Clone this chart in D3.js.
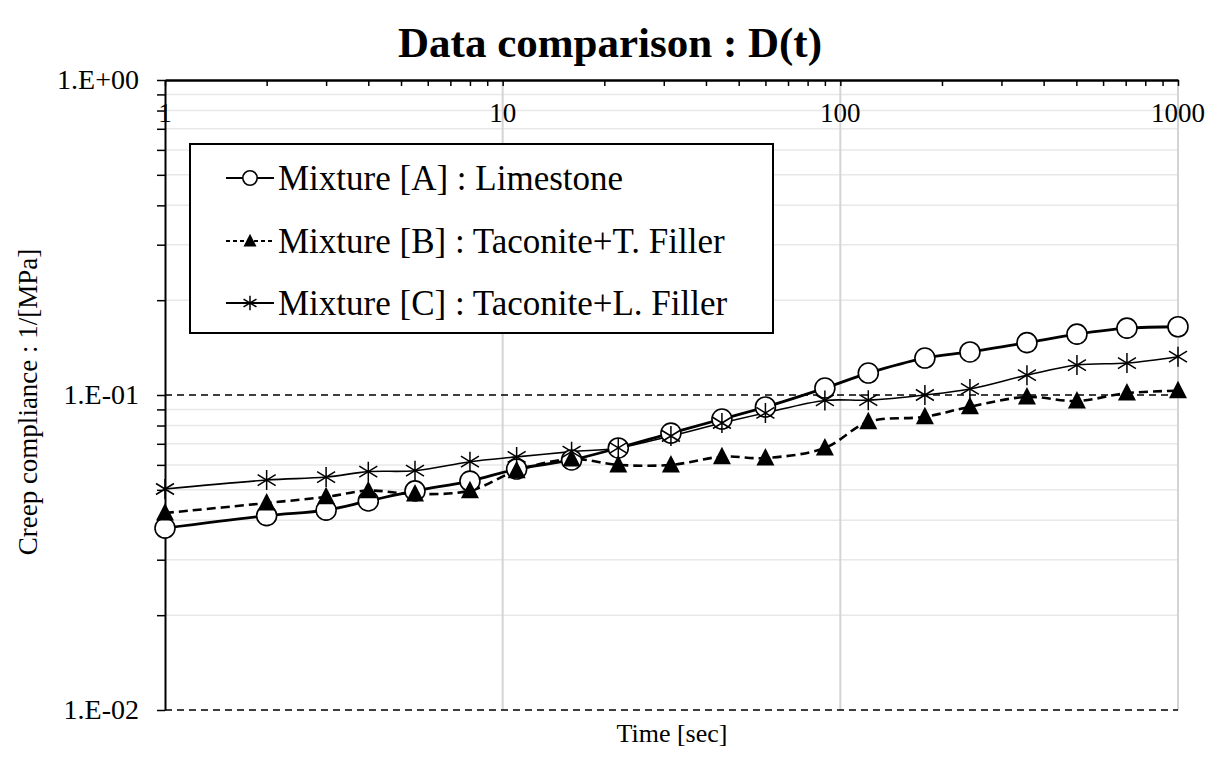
<!DOCTYPE html>
<html>
<head>
<meta charset="utf-8">
<script src="https://cdn.jsdelivr.net/npm/d3@7"></script>
<style>
  body { margin: 0; background: #fff; }
  svg text { font-family: "Liberation Serif", "Times New Roman", serif; fill: #000; }
</style>
</head>
<body>
<svg id="chart" width="1220" height="762"></svg>
<script>
// data
var times = [1, 2, 3, 4, 5.5, 8, 11, 16, 22, 31.5, 44.6, 60, 90, 121, 178, 242, 357, 502, 706, 1000];
var mixA = [0.0378, 0.0414, 0.0431, 0.0461, 0.0496, 0.0533, 0.0582, 0.0622, 0.0679, 0.0757,
            0.0839, 0.0916, 0.1052, 0.1174, 0.131, 0.137, 0.1466, 0.156, 0.163, 0.1647];
var mixB = [0.0422, 0.0454, 0.0475, 0.0497, 0.0485, 0.0497, 0.0575, 0.0626, 0.0600, 0.0600,
            0.0637, 0.0631, 0.0679, 0.0822, 0.0853, 0.0918, 0.0986, 0.0957, 0.1014, 0.1032];
var mixC = [0.0503, 0.0537, 0.0549, 0.0571, 0.0575, 0.0614, 0.0636, 0.0661, 0.0679, 0.0741,
            0.0815, 0.0877, 0.0961, 0.0963, 0.1000, 0.1045, 0.1156, 0.1245, 0.1263, 0.1323];
var seriesNames = ["Mixture [A] : Limestone", "Mixture [B] : Taconite+T. Filler", "Mixture [C] : Taconite+L. Filler"];
var xTickValues = [1, 10, 100, 1000];
var xTickLabels = ["1", "10", "100", "1000"];
var yTickValues = [1, 0.1, 0.01];
var yTickLabels = ["1.E+00", "1.E-01", "1.E-02"];

var svg = d3.select("#chart");
var pLeft = 165, pRight = 1178, pTop = 80, pBottom = 710;

var x = d3.scaleLog().domain([1, 1000]).range([pLeft, pRight]);
var y = d3.scaleLog().domain([0.01, 1]).range([pBottom, pTop]);

// minor positions
var minorX = [], minorY = [];
[1, 10, 100].forEach(function(d){ for (var k = 2; k <= 9; k++) minorX.push(d * k); });
[0.01, 0.1].forEach(function(d){ for (var k = 2; k <= 9; k++) minorY.push(d * k); });

// gridlines
var grid = svg.append("g");
grid.selectAll(".hmin").data(minorY).enter().append("line")
    .attr("x1", pLeft).attr("x2", pRight)
    .attr("y1", function(d){ return y(d); }).attr("y2", function(d){ return y(d); })
    .attr("stroke", "#e8e8e8").attr("stroke-width", 1.5);
grid.selectAll(".vmaj").data([10, 100, 1000]).enter().append("line")
    .attr("x1", function(d){ return x(d); }).attr("x2", function(d){ return x(d); })
    .attr("y1", pTop).attr("y2", pBottom)
    .attr("stroke", "#d4d4d4").attr("stroke-width", 2);
grid.selectAll(".hmaj").data([0.1, 0.01]).enter().append("line")
    .attr("x1", pLeft).attr("x2", pRight)
    .attr("y1", function(d){ return y(d); }).attr("y2", function(d){ return y(d); })
    .attr("stroke", "#000").attr("stroke-width", 1.5).attr("stroke-dasharray", "7,5");

// tick labels (drawn under the axes so the "1" sits behind the left axis like the original)
svg.selectAll(".xlab").data(xTickValues).enter().append("text")
    .attr("x", function(d){ return x(d); }).attr("y", 122)
    .attr("text-anchor", "middle").attr("font-size", 27)
    .text(function(d, i){ return xTickLabels[i]; });
svg.selectAll(".ylab").data(yTickValues).enter().append("text")
    .attr("x", 139).attr("y", function(d){ return y(d) + 9; })
    .attr("text-anchor", "end").attr("font-size", 28)
    .text(function(d, i){ return yTickLabels[i]; });

// axes
var xAxis = svg.append("g").attr("transform", "translate(0," + pTop + ")")
    .call(d3.axisTop(x).tickValues(minorX.concat(xTickValues)).tickSizeInner(-6).tickSizeOuter(0).tickFormat(""));
xAxis.select(".domain").attr("stroke-width", 2.5);
xAxis.selectAll(".tick line").attr("stroke-width", 1.5);

var yAxis = svg.append("g").attr("transform", "translate(" + pLeft + ",0)")
    .call(d3.axisLeft(y).tickValues(minorY.concat(yTickValues)).tickSize(8).tickSizeOuter(0).tickFormat(""));
yAxis.select(".domain").attr("stroke-width", 2);
yAxis.selectAll(".tick line").attr("stroke-width", 1.5);

// titles
svg.append("text").attr("x", 610).attr("y", 57).attr("text-anchor", "middle")
    .attr("font-size", 43).attr("font-weight", "bold").text("Data comparison : D(t)");
svg.append("text").attr("x", 672).attr("y", 742).attr("text-anchor", "middle")
    .attr("font-size", 26).text("Time [sec]");
svg.append("text").attr("transform", "translate(37,402) rotate(-90)").attr("text-anchor", "middle")
    .attr("font-size", 27).text("Creep compliance : 1/[MPa]");

// lines
var line = d3.line()
    .x(function(d){ return x(d[0]); })
    .y(function(d){ return y(d[1]); })
    .curve(d3.curveCatmullRom);

function pairs(vals){ return times.map(function(t, i){ return [t, vals[i]]; }); }

var styles = [
  { vals: mixA, width: 2.8, dash: null },
  { vals: mixB, width: 2.6, dash: "9,5" },
  { vals: mixC, width: 1.6, dash: null }
];

var starPath = "M0,-10L0,10M-9,-5.5L9,5.5M-9,5.5L9,-5.5";
var triPath = "M0,-10L9,7.5L-9,7.5Z";

function drawMarker(g, kind, cx, cy, scale){
  scale = scale || 1;
  if (kind === 0) {
    g.append("circle").attr("cx", cx).attr("cy", cy).attr("r", 10 * scale)
      .attr("fill", "#fff").attr("stroke", "#000").attr("stroke-width", 1.6);
  } else if (kind === 1) {
    g.append("path").attr("d", triPath).attr("fill", "#000")
      .attr("transform", "translate(" + cx + "," + cy + ") scale(" + scale + ")");
  } else {
    g.append("path").attr("d", starPath).attr("fill", "none").attr("stroke", "#000").attr("stroke-width", 1.5 / scale)
      .attr("transform", "translate(" + cx + "," + cy + ") scale(" + scale + ")");
  }
}

var plot = svg.append("g");
styles.forEach(function(s, k){
  plot.append("path").attr("d", line(pairs(s.vals)))
    .attr("fill", "none").attr("stroke", "#000").attr("stroke-width", s.width)
    .attr("stroke-dasharray", s.dash);
});
styles.forEach(function(s, k){
  pairs(s.vals).forEach(function(p){ drawMarker(plot, k, x(p[0]), y(p[1])); });
});

// legend
var legend = svg.append("g");
legend.append("rect").attr("x", 190).attr("y", 144).attr("width", 583).attr("height", 189)
  .attr("fill", "#fff").attr("stroke", "#000").attr("stroke-width", 2);
var rowY = [178, 241, 303];
styles.forEach(function(s, k){
  legend.append("line").attr("x1", 226).attr("x2", 274).attr("y1", rowY[k]).attr("y2", rowY[k])
    .attr("stroke", "#000").attr("stroke-width", s.width > 2 ? 2.2 : 1.8)
    .attr("stroke-dasharray", s.dash ? "4,3" : null);
  drawMarker(legend, k, 250, rowY[k], 0.72);
  legend.append("text").attr("x", 278).attr("y", rowY[k] + 12).attr("font-size", 35).text(seriesNames[k]);
});
</script>
</body>
</html>
